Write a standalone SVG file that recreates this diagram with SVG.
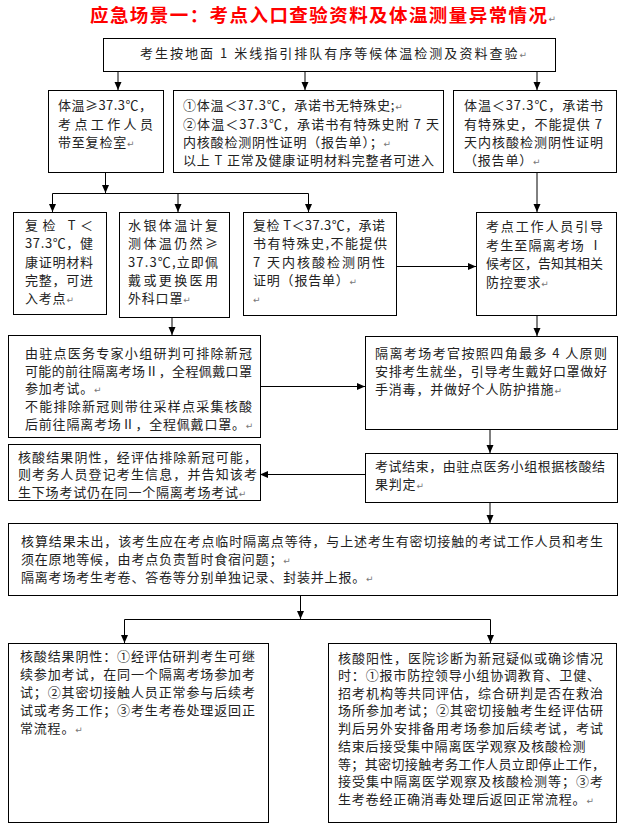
<svg xmlns="http://www.w3.org/2000/svg" width="630" height="836" viewBox="0 0 630 836">
<defs>
<style>
.b{fill:#fff;stroke:#000;stroke-width:1}
.t{font-family:"Noto Sans CJK SC","Noto Sans",sans-serif;font-size:13px;fill:#222}
.n{letter-spacing:0.8px}
.p{font-family:"DejaVu Sans",sans-serif;font-size:9px;fill:#777;letter-spacing:0}
.c{stroke:#000;stroke-width:1;fill:none}
.a{marker-end:url(#ah)}
.title{font-family:"Noto Sans CJK SC","Noto Sans",sans-serif;font-size:18.5px;font-weight:bold;fill:#f00}
</style>
<marker id="ah" viewBox="0 0 8 8" refX="8" refY="4" markerWidth="8" markerHeight="8" markerUnits="userSpaceOnUse" orient="auto">
<path d="M0,0.5 L8,4 L0,7.5 z" fill="#000"/>
</marker>
</defs>
<rect width="630" height="836" fill="#fff"/>

<g id="title">
<text class="title" x="90" y="22" textLength="466" lengthAdjust="spacing">应急场景一：考点入口查验资料及体温测量异常情况<tspan class="p" font-weight="normal">↵</tspan></text>
</g>

<g id="connectors">
<line class="c a" x1="118" y1="71.5" x2="118" y2="90"/>
<line class="c a" x1="305" y1="71.5" x2="305" y2="90"/>
<line class="c a" x1="537" y1="71.5" x2="537" y2="90"/>
<line class="c a" x1="105.5" y1="172" x2="105.5" y2="193"/>
<polyline class="c" points="52.5,193.5 308.5,193.5"/>
<line class="c a" x1="52.5" y1="193.5" x2="52.5" y2="212"/>
<line class="c a" x1="178" y1="193.5" x2="178" y2="212"/>
<line class="c a" x1="308.5" y1="193.5" x2="308.5" y2="212"/>
<line class="c a" x1="537" y1="172" x2="537" y2="212"/>
<line class="c a" x1="396" y1="266.5" x2="476" y2="266.5"/>
<line class="c a" x1="172" y1="317" x2="172" y2="335"/>
<line class="c a" x1="260" y1="386.5" x2="365" y2="386.5"/>
<line class="c a" x1="537" y1="315" x2="537" y2="336"/>
<line class="c a" x1="490" y1="429" x2="490" y2="453"/>
<line class="c a" x1="365" y1="474.5" x2="260" y2="474.5"/>
<line class="c a" x1="490" y1="502" x2="490" y2="523"/>
<line class="c a" x1="300.5" y1="595" x2="300.5" y2="619"/>
<polyline class="c" points="124.5,619.5 490.5,619.5"/>
<line class="c a" x1="124.5" y1="619.5" x2="124.5" y2="643"/>
<line class="c a" x1="490.5" y1="619.5" x2="490.5" y2="643"/>
</g>

<g id="n-start">
<rect class="b" x="103.5" y="38.5" width="452" height="33"/>
<text class="t" x="140" y="58" textLength="387" lengthAdjust="spacing">考生按地面 1 米线指引排队有序等候体温检测及资料查验<tspan class="p">↵</tspan></text>
</g>

<g id="n-high">
<rect class="b" x="48.5" y="90.5" width="115" height="82"/>
<text class="t" x="58" y="110" textLength="94" lengthAdjust="spacing">体温≥37.3℃，</text>
<text class="t" x="58" y="128.5" textLength="95" lengthAdjust="spacing">考点工作人员</text>
<text class="t n" x="58" y="147">带至复检室<tspan class="p">↵</tspan></text>
</g>

<g id="n-normal">
<rect class="b" x="173.5" y="90.5" width="270" height="82"/>
<text class="t n" x="183" y="110">①体温＜37.3℃，承诺书无特殊史;<tspan class="p">↵</tspan></text>
<text class="t" x="183" y="128.5" textLength="256" lengthAdjust="spacing">②体温＜37.3℃，承诺书有特殊史附 7 天</text>
<text class="t n" x="183" y="147">内核酸检测阴性证明（报告单）；<tspan class="p">↵</tspan></text>
<text class="t" x="183" y="165" textLength="251" lengthAdjust="spacing">以上 T 正常及健康证明材料完整者可进入</text>
</g>

<g id="n-special">
<rect class="b" x="453.5" y="90.5" width="163" height="82"/>
<text class="t" x="464" y="110" textLength="139" lengthAdjust="spacing">体温＜37.3℃，承诺书</text>
<text class="t" x="464" y="128.5" textLength="138" lengthAdjust="spacing">有特殊史，不能提供 7</text>
<text class="t" x="464" y="147" textLength="139" lengthAdjust="spacing">天内核酸检测阴性证明</text>
<text class="t n" x="464" y="165">（报告单）<tspan class="p">↵</tspan></text>
</g>

<g id="n-recheck-ok">
<rect class="b" x="13.5" y="212.5" width="93" height="102"/>
<text class="t" x="25" y="230" textLength="68" lengthAdjust="spacing">复检 T＜</text>
<text class="t" x="25" y="248" textLength="68" lengthAdjust="spacing">37.3℃，健</text>
<text class="t" x="25" y="266.5" textLength="68" lengthAdjust="spacing">康证明材料</text>
<text class="t" x="25" y="285" textLength="68" lengthAdjust="spacing">完整，可进</text>
<text class="t n" x="25" y="303">入考点<tspan class="p">↵</tspan></text>
</g>

<g id="n-mercury">
<rect class="b" x="119.5" y="212.5" width="110" height="105"/>
<text class="t" x="128" y="230" textLength="90" lengthAdjust="spacing">水银体温计复</text>
<text class="t" x="128" y="248" textLength="90" lengthAdjust="spacing">测体温仍然≥</text>
<text class="t" x="128" y="266.5" textLength="90" lengthAdjust="spacing">37.3℃,立即佩</text>
<text class="t" x="128" y="285" textLength="90" lengthAdjust="spacing">戴或更换医用</text>
<text class="t n" x="128" y="303">外科口罩<tspan class="p">↵</tspan></text>
</g>

<g id="n-recheck-special">
<rect class="b" x="243.5" y="212.5" width="153" height="103"/>
<text class="t" x="253" y="230" textLength="132" lengthAdjust="spacing">复检 T＜37.3℃，承诺</text>
<text class="t" x="253" y="248" textLength="134" lengthAdjust="spacing">书有特殊史,不能提供</text>
<text class="t" x="253" y="266.5" textLength="132" lengthAdjust="spacing">7 天内核酸检测阴性</text>
<text class="t n" x="253" y="285">证明（报告单）<tspan class="p">↵</tspan></text>
<text class="t" x="253" y="303"><tspan class="p">↵</tspan></text>
</g>

<g id="n-guide">
<rect class="b" x="476.5" y="212.5" width="140" height="103"/>
<text class="t" x="486" y="231" textLength="117" lengthAdjust="spacing">考点工作人员引导</text>
<text class="t" x="486" y="249.5" textLength="116" lengthAdjust="spacing">考生至隔离考场 Ⅰ</text>
<text class="t" x="486" y="268" textLength="117" lengthAdjust="spacing">候考区，告知其相关</text>
<text class="t n" x="486" y="286.5">防控要求<tspan class="p">↵</tspan></text>
</g>

<g id="n-expert">
<rect class="b" x="8.5" y="335.5" width="252" height="102"/>
<text class="t" x="25" y="357.5" textLength="227" lengthAdjust="spacing">由驻点医务专家小组研判可排除新冠</text>
<text class="t" x="25" y="375.5" textLength="227" lengthAdjust="spacing">可能的前往隔离考场Ⅱ，全程佩戴口罩</text>
<text class="t n" x="25" y="393">参加考试。<tspan class="p">↵</tspan></text>
<text class="t" x="25" y="411" textLength="227" lengthAdjust="spacing">不能排除新冠则带往采样点采集核酸</text>
<text class="t n" x="25" y="429">后前往隔离考场Ⅱ，全程佩戴口罩。<tspan class="p">↵</tspan></text>
</g>

<g id="n-seating">
<rect class="b" x="365.5" y="336.5" width="252" height="93"/>
<text class="t" x="375" y="357.5" textLength="232" lengthAdjust="spacing">隔离考场考官按照四角最多 4 人原则</text>
<text class="t" x="375" y="375.5" textLength="232" lengthAdjust="spacing">安排考生就坐，引导考生戴好口罩做好</text>
<text class="t n" x="375" y="393.5">手消毒，并做好个人防护措施<tspan class="p">↵</tspan></text>
</g>

<g id="n-negative-next">
<rect class="b" x="8.5" y="444.5" width="252" height="56"/>
<text class="t" x="18" y="461.5" textLength="239" lengthAdjust="spacing">核酸结果阴性，经评估排除新冠可能，</text>
<text class="t" x="18" y="479" textLength="239" lengthAdjust="spacing">则考务人员登记考生信息，并告知该考</text>
<text class="t n" x="18" y="496.5">生下场考试仍在同一个隔离考场考试<tspan class="p">↵</tspan></text>
</g>

<g id="n-exam-end">
<rect class="b" x="365.5" y="453.5" width="252" height="49"/>
<text class="t" x="375" y="471" textLength="230" lengthAdjust="spacing">考试结束，由驻点医务小组根据核酸结</text>
<text class="t n" x="375" y="489">果判定<tspan class="p">↵</tspan></text>
</g>

<g id="n-pending">
<rect class="b" x="8.5" y="523.5" width="609" height="72"/>
<text class="t" x="21" y="546" textLength="582" lengthAdjust="spacing">核算结果未出，该考生应在考点临时隔离点等待，与上述考生有密切接触的考试工作人员和考生</text>
<text class="t n" x="21" y="564">须在原地等候，由考点负责暂时食宿问题；<tspan class="p">↵</tspan></text>
<text class="t n" x="21" y="582">隔离考场考生考卷、答卷等分别单独记录、封装并上报。<tspan class="p">↵</tspan></text>
</g>

<g id="n-negative">
<rect class="b" x="8.5" y="643.5" width="260" height="179"/>
<text class="t" x="20" y="661" textLength="235" lengthAdjust="spacing">核酸结果阴性：①经评估研判考生可继</text>
<text class="t" x="20" y="679" textLength="235" lengthAdjust="spacing">续参加考试，在同一个隔离考场参加考</text>
<text class="t" x="20" y="697" textLength="235" lengthAdjust="spacing">试；②其密切接触人员正常参与后续考</text>
<text class="t" x="20" y="715" textLength="235" lengthAdjust="spacing">试或考务工作；③考生考卷处理返回正</text>
<text class="t n" x="20" y="733">常流程。<tspan class="p">↵</tspan></text>
</g>

<g id="n-positive">
<rect class="b" x="328.5" y="643.5" width="288" height="179"/>
<text class="t" x="338" y="662.5" textLength="265" lengthAdjust="spacing">核酸阳性，医院诊断为新冠疑似或确诊情况</text>
<text class="t" x="338" y="680" textLength="262" lengthAdjust="spacing">时：①报市防控领导小组协调教育、卫健、</text>
<text class="t" x="338" y="697.5" textLength="265" lengthAdjust="spacing">招考机构等共同评估，综合研判是否在救治</text>
<text class="t" x="338" y="715" textLength="265" lengthAdjust="spacing">场所参加考试；②其密切接触考生经评估研</text>
<text class="t" x="338" y="732.5" textLength="265" lengthAdjust="spacing">判后另外安排备用考场参加后续考试，考试</text>
<text class="t n" x="338" y="750.5">结束后接受集中隔离医学观察及核酸检测</text>
<text class="t" x="338" y="768.5" textLength="267" lengthAdjust="spacing">等；其密切接触考务工作人员立即停止工作，</text>
<text class="t" x="338" y="786" textLength="265" lengthAdjust="spacing">接受集中隔离医学观察及核酸检测等；③考</text>
<text class="t n" x="338" y="804">生考卷经正确消毒处理后返回正常流程。<tspan class="p">↵</tspan></text>
</g>
</svg>
